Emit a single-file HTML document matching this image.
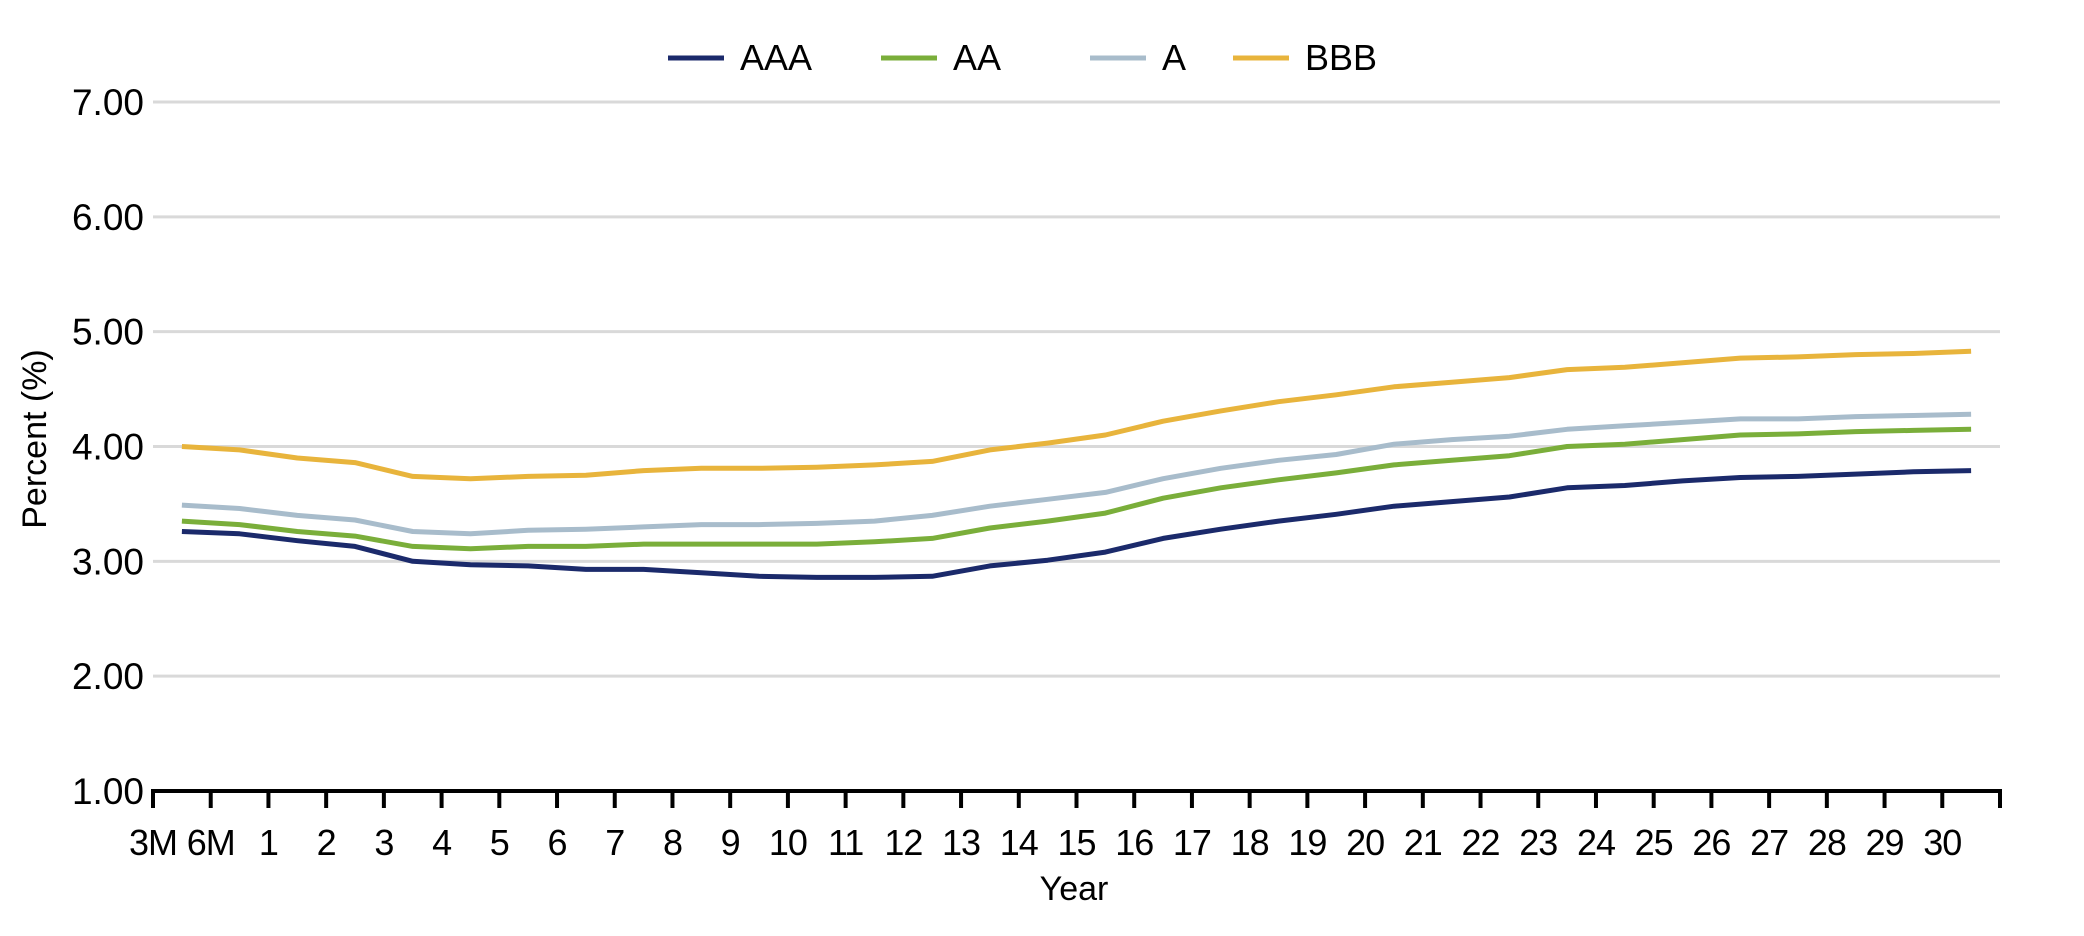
<!DOCTYPE html>
<html><head><meta charset="utf-8"><style>
html,body{margin:0;padding:0;background:#fff;}
svg{display:block;font-family:"Liberation Sans",sans-serif;}
</style></head><body>
<svg id="chart" width="2084" height="936" viewBox="0 0 2084 936" xmlns="http://www.w3.org/2000/svg">
<g id="grid"></g>
<g id="yaxis"></g>
<g id="xaxis"></g>
<g id="series"></g>
<g id="legend"></g>
<text transform="translate(46,439) rotate(-90)" text-anchor="middle" font-size="34" fill="#000">Percent (%)</text>
<text x="1074" y="900" text-anchor="middle" font-size="34" fill="#000">Year</text>
</svg>
<script>
const categories=["3M","6M","1","2","3","4","5","6","7","8","9","10","11","12","13","14","15","16","17","18","19","20","21","22","23","24","25","26","27","28","29","30"];
const yTicks=[1,2,3,4,5,6,7];
const yTickLabels=["1.00","2.00","3.00","4.00","5.00","6.00","7.00"];
const seriesNames=["AAA","AA","A","BBB"];
const aaa=[3.26,3.24,3.18,3.13,3.00,2.97,2.96,2.93,2.93,2.90,2.87,2.86,2.86,2.87,2.96,3.01,3.08,3.20,3.28,3.35,3.41,3.48,3.52,3.56,3.64,3.66,3.70,3.73,3.74,3.76,3.78,3.79];
const aa=[3.35,3.32,3.26,3.22,3.13,3.11,3.13,3.13,3.15,3.15,3.15,3.15,3.17,3.20,3.29,3.35,3.42,3.55,3.64,3.71,3.77,3.84,3.88,3.92,4.00,4.02,4.06,4.10,4.11,4.13,4.14,4.15];
const a=[3.49,3.46,3.40,3.36,3.26,3.24,3.27,3.28,3.30,3.32,3.32,3.33,3.35,3.40,3.48,3.54,3.60,3.72,3.81,3.88,3.93,4.02,4.06,4.09,4.15,4.18,4.21,4.24,4.24,4.26,4.27,4.28];
const bbb=[4.00,3.97,3.90,3.86,3.74,3.72,3.74,3.75,3.79,3.81,3.81,3.82,3.84,3.87,3.97,4.03,4.10,4.22,4.31,4.39,4.45,4.52,4.56,4.60,4.67,4.69,4.73,4.77,4.78,4.80,4.81,4.83];
const seriesData=[aaa,aa,a,bbb];
const colors=["#1b2a6b","#7aae3a","#a8bccb","#e8b43c"];

const NS="http://www.w3.org/2000/svg";
const L=153,R=2000,T=102,B=791,yMin=1,yMax=7;
const band=(R-L)/categories.length;
function yScale(v){return B-(v-yMin)/(yMax-yMin)*(B-T);}
function xTick(i){return L+i*band;}
function xMid(i){return L+(i+0.5)*band;}
function mk(tag,attrs,parent){const e=document.createElementNS(NS,tag);for(const k in attrs)e.setAttribute(k,attrs[k]);parent.appendChild(e);return e;}

const grid=document.getElementById('grid'),yax=document.getElementById('yaxis'),xax=document.getElementById('xaxis'),ser=document.getElementById('series'),leg=document.getElementById('legend');
yTicks.forEach((v,i)=>{
  if(v!==yMin){const g=mk('line',{x1:L,x2:R,y1:yScale(v),y2:yScale(v),stroke:'#d9d9d9','stroke-width':3},grid);
  
  }
  const t=mk('text',{x:144,y:yScale(v)+13,'text-anchor':'end','font-size':37,fill:'#000'},yax);
  t.textContent=yTickLabels[i];
  
  
});
const ax=mk('line',{x1:L-2,x2:R+2,y1:B,y2:B,stroke:'#000','stroke-width':4},xax);


for(let i=0;i<=categories.length;i++){
  const tk=mk('line',{x1:xTick(i),x2:xTick(i),y1:B,y2:B+17,stroke:'#000','stroke-width':4},xax);
  
  
  if(i<categories.length){
    const t=mk('text',{x:xTick(i),y:855,'text-anchor':'middle','font-size':36,fill:'#000','letter-spacing':-1},xax);
    t.textContent=categories[i];
    
    
  }
}
seriesData.forEach((d,s)=>{
  const pts=d.map((v,i)=>xMid(i).toFixed(1)+','+yScale(v).toFixed(1)).join(' ');
  const p=mk('polyline',{points:pts,fill:'none',stroke:colors[s],'stroke-width':5,'stroke-linejoin':'round'},ser);
  
  
});
const legX=[668,881,1090,1233];
seriesNames.forEach((n,s)=>{
  const g=mk('g',{},leg);
  
  
  mk('line',{x1:legX[s],x2:legX[s]+56,y1:58,y2:58,stroke:colors[s],'stroke-width':5},g);
  const t=mk('text',{x:legX[s]+72,y:70,'font-size':36,fill:'#000'},g);
  t.textContent=n;
});
</script>
</body></html>
